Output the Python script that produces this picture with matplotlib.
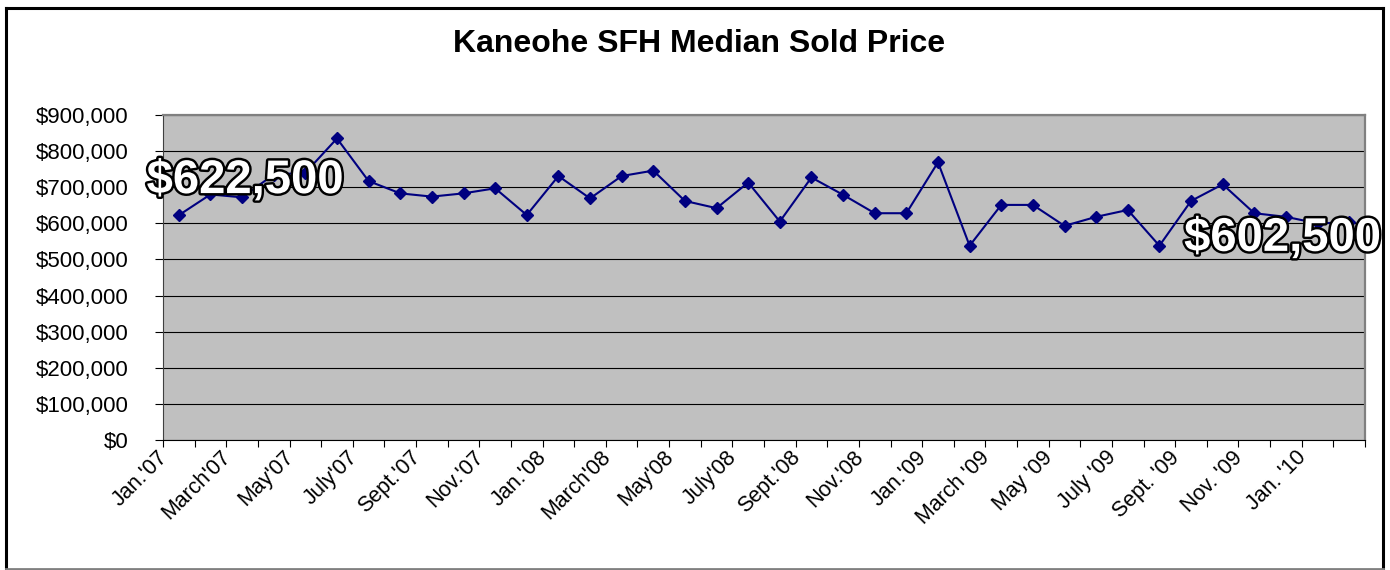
import numpy as np
import matplotlib.pyplot as plt
import matplotlib.patheffects as pe
from matplotlib.lines import Line2D
from matplotlib.ticker import FuncFormatter, FixedLocator
from matplotlib.transforms import ScaledTranslation

plt.rcParams['font.family'] = ['Liberation Sans', 'DejaVu Sans']

# 数据: Jan '07 - Feb '10, monthly
prices = [622500, 680000, 672000, 735000, 740000, 835000, 717000, 683000, 674000, 683000,
          697000, 623000, 731000, 669000, 731000, 746000, 662000, 642000, 713000, 605000,
          727000, 679000, 628000, 628000, 769000, 538000, 651000, 651000, 593000, 618000,
          637000, 538000, 662000, 708000, 628000, 618000, 600000, 602500]
tick_labels = ["Jan.'07", "March'07", "May'07", "July'07", "Sept.'07", "Nov.'07",
               "Jan.'08", "March'08", "May'08", "July'08", "Sept.'08", "Nov.'08",
               "Jan.'09", "March '09", "May '09", "July '09", "Sept. '09", "Nov. '09",
               "Jan. '10"]
first_label = '$622,500'
last_label = '$602,500'

x = np.arange(len(prices))

fig = plt.figure(figsize=(13.9, 5.7), dpi=100)
ax = fig.add_axes([163 / 1390, 1 - 440 / 570, (1365 - 163) / 1390, (440 - 115) / 570])
ax.set_facecolor('#C0C0C0')

ax.plot(x, prices, color='#000080', linewidth=1.5, marker='D', markersize=6,
        markerfacecolor='#000080', markeredgecolor='#000080', zorder=3)

ax.set_xlim(-0.5, len(prices) - 0.5)
ax.set_ylim(0, 900000)
ax.set_yticks(np.arange(0, 900001, 100000))
ax.yaxis.set_major_formatter(FuncFormatter(lambda v, p: '${:,.0f}'.format(v)))
ax.grid(axis='y', color='black', linewidth=0.8, zorder=1)

# category axis: ticks between categories, labels every 2 months
ax.xaxis.set_major_locator(FixedLocator(np.arange(-0.5, len(prices), 1)))
ax.set_xticklabels([])
ax.xaxis.set_minor_locator(FixedLocator(np.arange(0, len(prices), 2)))
ax.xaxis.set_minor_formatter(FuncFormatter(lambda v, p: tick_labels[int(round(v)) // 2]
                                           if int(round(v)) // 2 < len(tick_labels) else ''))
ax.tick_params(axis='x', which='minor', length=0, pad=5, labelsize=15.5)
ax.tick_params(axis='x', which='major', length=5, direction='out', color='black')
ax.tick_params(axis='y', length=6, direction='out', labelsize=16, pad=19)
offset = ScaledTranslation(-22 / 100, 0, fig.dpi_scale_trans)
for lbl in ax.xaxis.get_minorticklabels():
    lbl.set_rotation(45)
    lbl.set_ha('right')
    lbl.set_va('top')
    lbl.set_rotation_mode('anchor')
    lbl.set_transform(lbl.get_transform() + offset)

for side in ['top', 'right']:
    ax.spines[side].set_color('#808080')
    ax.spines[side].set_linewidth(1.6)
ax.spines['left'].set_color('#404040')
ax.spines['bottom'].set_color('black')

stroke = [pe.withStroke(linewidth=3.5, foreground='black')]
ax.text(2.1, 717000, first_label, fontsize=34, fontweight='bold', color='white',
        ha='center', va='center', path_effects=stroke, zorder=5)
ax.text(34.9, 557000, last_label, fontsize=34, fontweight='bold', color='white',
        ha='center', va='center', path_effects=stroke, zorder=5, clip_on=False)

fig.text(699 / 1390, 1 - 44 / 570, 'Kaneohe SFH Median Sold Price', fontsize=23,
         fontweight='bold', ha='center', va='center')

# outer chart frame
fig.add_artist(Line2D([6 / 1390, 6 / 1390], [2 / 570, 1 - 8 / 570], color='black', linewidth=2.2))
fig.add_artist(Line2D([6 / 1390, 1383 / 1390], [1 - 8 / 570, 1 - 8 / 570], color='black', linewidth=2.2))
fig.add_artist(Line2D([1383 / 1390, 1383 / 1390], [2 / 570, 1 - 8 / 570], color='black', linewidth=2.2))
fig.add_artist(Line2D([6 / 1390, 1383 / 1390], [1.5 / 570, 1.5 / 570], color='#808080', linewidth=2))

plt.savefig('out.png', dpi=100)
